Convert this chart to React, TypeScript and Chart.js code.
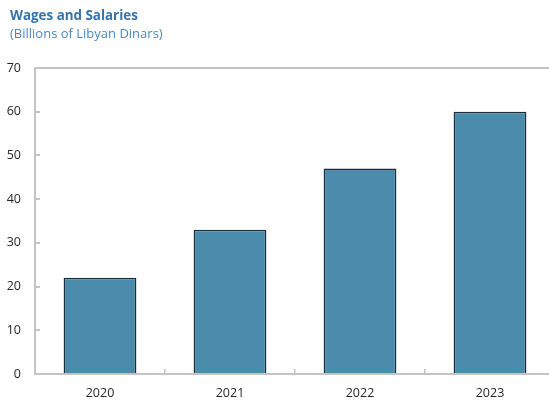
import React, { useEffect, useRef } from "react";
import { Chart, registerables } from "chart.js";

Chart.register(...registerables);

const categories = ["2020", "2021", "2022", "2023"];
const wages = [22, 33, 47, 60];
const yTicks = [0, 10, 20, 30, 40, 50, 60, 70];

const TITLE = "Wages and Salaries";
const SUBTITLE = "(Billions of Libyan Dinars)";

function makePattern(): CanvasPattern | string {
  const c = document.createElement("canvas");
  c.width = 8;
  c.height = 8;
  const g = c.getContext("2d");
  if (!g) return "#4b8bac";
  g.fillStyle = "#4b8bac";
  g.fillRect(0, 0, 8, 8);
  g.fillStyle = "#447fa0";
  g.fillRect(3, 3, 1, 1);
  const p = g.createPattern(c, "repeat");
  return p || "#4b8bac";
}

export default function App() {
  const ref = useRef<HTMLCanvasElement | null>(null);

  useEffect(() => {
    if (!ref.current) return;
    const gray = "#c4c4c4";
    const chart = new Chart(ref.current, {
      type: "bar",
      data: {
        labels: categories,
        datasets: [
          {
            data: wages,
            backgroundColor: makePattern() as any,
            borderColor: "#1e2d38",
            borderWidth: { top: 1.5, left: 1.5, right: 1.5, bottom: 0 },
            borderSkipped: false,
            barPercentage: 0.56,
            categoryPercentage: 1,
          },
        ],
      },
      options: {
        animation: false,
        responsive: false,
        layout: { padding: { top: 68, left: 0, right: 0, bottom: 0 } },
        plugins: {
          legend: { display: false },
          tooltip: { enabled: false },
          title: { display: false },
        },
        scales: {
          x: {
            grid: {
              drawOnChartArea: false,
              tickLength: -5,
              color: gray,
              lineWidth: 1.5,
              offset: true,
            },
            border: { color: gray, width: 2 },
            ticks: {
              color: "#262626",
              font: { family: "'Open Sans'", size: 12.5 },
              padding: 17,
              maxRotation: 0,
            },
            afterFit: (s: any) => {
              s.height = 27;
            },
          },
          y: {
            min: 0,
            max: 70,
            afterBuildTicks: (s: any) => {
              s.ticks = yTicks.map((v) => ({ value: v }));
            },
            grid: {
              drawOnChartArea: true,
              tickLength: -5,
              tickColor: gray,
              color: (ctx: any) =>
                ctx.tick && ctx.tick.value === 70 ? gray : "rgba(0,0,0,0)",
              lineWidth: 2,
            },
            border: { color: gray, width: 2 },
            ticks: {
              color: "#262626",
              font: { family: "'Open Sans'", size: 12.5 },
              padding: 19,
            },
            afterFit: (s: any) => {
              s.width = 35;
            },
          },
        },
      },
    });
    return () => chart.destroy();
  }, []);

  return (
    <div
      style={{
        position: "absolute",
        left: 0,
        top: 0,
        width: 549,
        height: 401,
        overflow: "hidden",
        background: "#fff",
      }}
    >
      <canvas
        ref={ref}
        width={555}
        height={401}
        style={{ position: "absolute", left: 0, top: 0, width: 555, height: 401 }}
      />
      <div
        style={{
          position: "absolute",
          left: 10,
          top: 6,
          fontFamily: "'Open Sans', sans-serif",
          fontWeight: 700,
          fontSize: 13.4,
          color: "#3473ab",
          lineHeight: "18px",
          whiteSpace: "nowrap",
        }}
      >
        {TITLE}
      </div>
      <div
        style={{
          position: "absolute",
          left: 10,
          top: 24,
          fontFamily: "'Open Sans', sans-serif",
          fontSize: 13,
          color: "#4c88bd",
          lineHeight: "18px",
          whiteSpace: "nowrap",
        }}
      >
        {SUBTITLE}
      </div>
    </div>
  );
}
